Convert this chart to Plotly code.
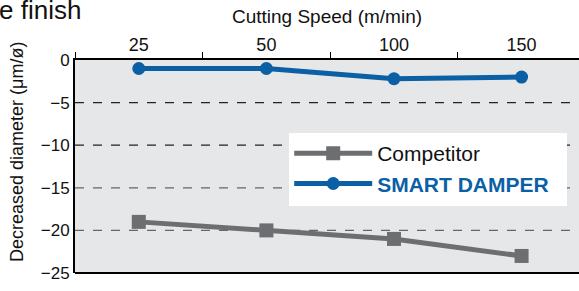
import plotly.graph_objects as go

speeds = ["25", "50", "100", "150"]
competitor = [-19, -20, -21, -23]
smart_damper = [-1, -1, -2.2, -2]
grid_vals = [-5, -10, -15, -20]

BLUE = "#0b5fa5"
GRAY = "#6d6e71"

fig = go.Figure()
fig.add_trace(go.Scatter(x=speeds, y=competitor, name="Competitor",
                         mode="lines+markers",
                         line=dict(color=GRAY, width=5),
                         marker=dict(symbol="square", size=14, color=GRAY)))
fig.add_trace(go.Scatter(x=speeds, y=smart_damper,
                         name="<b><span style='color:%s'>SMART DAMPER</span></b>" % BLUE,
                         mode="lines+markers",
                         line=dict(color=BLUE, width=5),
                         marker=dict(symbol="circle", size=13, color=BLUE)))

for i, g in enumerate(grid_vals):
    fig.add_shape(type="line", xref="paper", yref="y", x0=0, x1=1, y0=g, y1=g,
                  line=dict(color="#222222" if i < 2 else "#666666", width=1.2, dash="dash"),
                  layer="below")

W, T, B = 504, 60, 273
H = B - T
# white legend box
fig.add_shape(type="rect", xref="paper", yref="paper",
              x0=(289 - 75) / W, x1=(567 - 75) / W,
              y0=(B - 206) / H, y1=(B - 133) / H,
              fillcolor="white", line=dict(width=0), layer="above")

fig.update_layout(
    width=579, height=291,
    margin=dict(l=75, r=0, t=60, b=18, autoexpand=False),
    paper_bgcolor="white",
    plot_bgcolor="#e6e7e9",
    font=dict(family="Liberation Sans, Arial, sans-serif", size=17, color="#111111"),
    showlegend=True,
    legend=dict(x=0.425, y=0.657, xanchor="left", yanchor="top",
                bgcolor="rgba(0,0,0,0)", borderwidth=0,
                font=dict(size=21),
                tracegroupgap=2, itemwidth=78),
    xaxis=dict(side="top", type="category", range=[-0.5, 3.45], automargin=False,
               showgrid=False, zeroline=False,
               showline=True, linecolor="black", linewidth=2, mirror=False,
               ticks="outside", tickson="boundaries", ticklen=6, tickcolor="black",
               tickfont=dict(size=18),
               title=dict(text="Cutting Speed (m/min)", font=dict(size=19), standoff=6)),
    yaxis=dict(range=[-25, 0], tickvals=[0, -5, -10, -15, -20, -25], automargin=False,
               showgrid=False, zeroline=False,
               showline=True, linecolor="black", linewidth=2,
               ticks="", tickfont=dict(size=17)),
)
fig.add_shape(type="line", xref="paper", yref="paper", x0=0, x1=1, y0=0, y1=0,
              line=dict(color="black", width=2))
fig.add_annotation(text="Decreased diameter (μm/ø)", xref="paper", yref="paper",
                   x=-58/504, y=(273 - 152) / 213, xanchor="center", yanchor="middle",
                   textangle=-90, showarrow=False,
                   font=dict(size=18, color="#111111"))
fig.add_annotation(text="e finish", xref="paper", yref="paper", x=-78/504, y=1 + 67/213,
                   xanchor="left", yanchor="top", showarrow=False,
                   font=dict(size=26, color="#111111"))

fig.write_html("out.html", config={"displayModeBar": False},
               post_script="document.body.style.margin='0';")
